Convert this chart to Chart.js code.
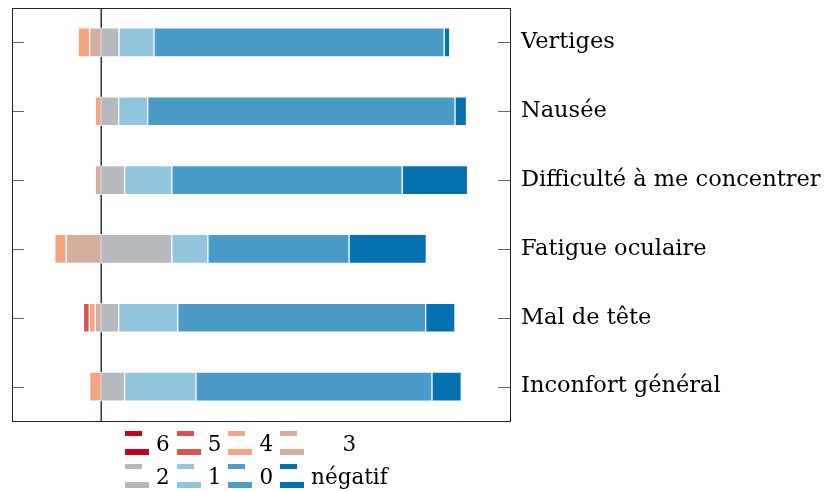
<!DOCTYPE html>
<html lang="fr">
<head>
  <meta charset="UTF-8" />
  <title>Symptômes</title>
  <script src="https://cdn.jsdelivr.net/npm/chart.js"></script>
  <style>
    body { margin: 0; background: #fff; }
    .wrap { position: relative; width: 832px; height: 491px; }
    .legend {
      position: absolute; left: 125px; top: 428px;
      display: grid;
      grid-template-columns: 24px auto 24px auto 24px auto 24px auto;
      column-gap: 7px; row-gap: 4px;
      font-family: "DejaVu Serif", serif; font-size: 21.5px; color: #000;
      align-items: center;
    }
    .legend .lbl { text-align: center; line-height: 26px; padding-top: 3px; }
    .icon { position: relative; width: 24px; height: 26px; }
    .icon span { position: absolute; left: 0; }
    .icon .a { top: 1px; width: 17px; height: 5px; }
    .icon .b { top: 19px; width: 24px; height: 6px; }
  </style>
</head>
<body>
  <div class="wrap">
    <canvas id="chart" width="832" height="491"></canvas>
    <div class="legend" id="legend"></div>
  </div>

  <script>
    const categories = ["Vertiges", "Nausée", "Difficulté à me concentrer", "Fatigue oculaire", "Mal de tête", "Inconfort général"];

    // parts in % ; 6..3 go to the left of zero
    const s6   = [0, 0, 0, 0, 0, 0];
    const s5   = [0, 0, 0, 0, 1.6, 0];
    const s4   = [3.1, 1.6, 0, 3.1, 1.6, 3.1];
    const s3   = [3.1, 0, 1.6, 9.4, 1.6, 0];
    const s2   = [4.8, 4.7, 6.3, 19.0, 4.7, 6.3];
    const s1   = [9.4, 7.8, 12.7, 9.7, 15.9, 19.2];
    const s0   = [78.1, 82.7, 62.0, 38.0, 66.7, 63.5];
    const sNeg = [1.5, 3.1, 17.6, 20.8, 7.9, 7.9];

    const legendLabels = ["6", "5", "4", "3", "2", "1", "0", "négatif"];
    const colors = ["#ca0020", "#d9534f", "#f4a582", "#d4afa0", "#b6babe", "#92c5de", "#4a9bc8", "#0571b0"];

    const xMin = -24, xMax = 110;

    const clean = (arr, sign) => arr.map(v => v === 0 ? null : sign * v);

    // negative side stacks from zero outward: 3, 4, 5, 6
    const series = [
      { label: "3", data: clean(s3, -1), color: colors[3] },
      { label: "4", data: clean(s4, -1), color: colors[2] },
      { label: "5", data: clean(s5, -1), color: colors[1] },
      { label: "6", data: clean(s6, -1), color: colors[0] },
      { label: "2", data: clean(s2, 1), color: colors[4] },
      { label: "1", data: clean(s1, 1), color: colors[5] },
      { label: "0", data: clean(s0, 1), color: colors[6] },
      { label: "négatif", data: clean(sNeg, 1), color: colors[7] }
    ];

    const frame = {
      id: "frame",
      beforeDatasetsDraw(chart) {
        const { ctx, chartArea: a, scales } = chart;
        const x0 = scales.x.getPixelForValue(0);
        ctx.save();
        ctx.strokeStyle = "#000";
        ctx.lineWidth = 1.2;
        ctx.beginPath();
        ctx.moveTo(x0, a.top);
        ctx.lineTo(x0, a.bottom);
        ctx.stroke();
        ctx.restore();
      },
      afterDraw(chart) {
        const { ctx, chartArea: a, scales } = chart;
        ctx.save();
        ctx.strokeStyle = "#666";
        ctx.lineWidth = 1;
        categories.forEach((c, i) => {
          const y = Math.round(scales.y.getPixelForValue(i)) + 0.5;
          ctx.beginPath();
          ctx.moveTo(a.left, y); ctx.lineTo(a.left + 12, y);
          ctx.moveTo(a.right - 12, y); ctx.lineTo(a.right, y);
          ctx.stroke();
        });
        ctx.strokeStyle = "#222";
        ctx.strokeRect(Math.round(a.left) + 0.5, Math.round(a.top) + 0.5,
          Math.round(a.right - a.left), Math.round(a.bottom - a.top));
        ctx.restore();
      }
    };

    new Chart(document.getElementById("chart"), {
      type: "bar",
      data: {
        labels: categories,
        datasets: series.map(s => ({
          label: s.label,
          data: s.data,
          backgroundColor: s.color,
          borderColor: "rgba(255,255,255,0.7)",
          borderWidth: 1,
          borderSkipped: false,
          barThickness: 29
        }))
      },
      options: {
        indexAxis: "y",
        responsive: false,
        devicePixelRatio: 1,
        animation: false,
        layout: { padding: { left: 12, top: 8, bottom: 70, right: 0 } },
        plugins: { legend: { display: false }, tooltip: { enabled: false } },
        scales: {
          x: {
            stacked: true, min: xMin, max: xMax, display: false
          },
          y: {
            stacked: true,
            position: "right",
            grid: { display: false, drawTicks: false },
            border: { display: false },
            ticks: {
              padding: 11,
              color: "#000",
              font: { family: "DejaVu Serif", size: 22.5 }
            },
            afterFit(scale) {
              scale.width = 322;
              scale.paddingTop = 0;
              scale.paddingBottom = 0;
            }
          }
        }
      },
      plugins: [frame]
    });

    // legend in two rows of four
    const legend = document.getElementById("legend");
    legendLabels.forEach((lab, i) => {
      const icon = document.createElement("div");
      icon.className = "icon";
      icon.innerHTML = `<span class="a" style="background:${colors[i]}"></span><span class="b" style="background:${colors[i]}"></span>`;
      const txt = document.createElement("div");
      txt.className = "lbl";
      txt.textContent = lab;
      legend.appendChild(icon);
      legend.appendChild(txt);
    });
  </script>
</body>
</html>
